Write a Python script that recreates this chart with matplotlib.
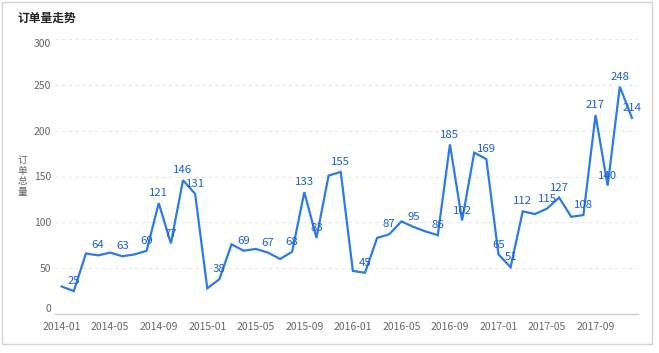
import matplotlib
matplotlib.use("Agg")
import matplotlib.pyplot as plt
from matplotlib.patches import Rectangle

plt.rcParams["font.family"] = ["Noto Sans CJK SC", "DejaVu Sans"]

# ── Data: monthly order totals 2014-01 .. 2017-12 ────────────────────────────
months = [f"{y}-{m:02d}" for y in range(2014, 2018) for m in range(1, 13)]
orders = [30, 25, 66, 64, 67, 63, 65, 69, 121, 77, 146, 131,
          28, 38, 76, 69, 71, 67, 60, 68, 133, 83, 151, 155,
          47, 45, 83, 87, 101, 95, 90, 86, 185, 102, 176, 169,
          65, 51, 112, 109, 115, 127, 106, 108, 217, 140, 248, 214]
# which points carry a value label (others hidden as overlapping)
show_label = [0, 1, 0, 1, 0, 1, 0, 1, 1, 1, 1, 1,
              0, 1, 0, 1, 0, 1, 0, 1, 1, 1, 0, 1,
              0, 1, 0, 1, 0, 1, 0, 1, 1, 1, 0, 1,
              1, 1, 1, 0, 1, 1, 0, 1, 1, 1, 1, 1]
y_ticks = [0, 50, 100, 150, 200, 250, 300]

LINE = "#2b7be6"
LABEL = "#1c5fd0"
GREY = "#666666"

W, H = 659, 353
fig = plt.figure(figsize=(W / 100, H / 100), dpi=100)
fig.patch.set_facecolor("white")

# outer panel border
fig.add_artist(Rectangle((2 / W, 1 - 344 / H), 650 / W, 342 / H,
                         transform=fig.transFigure, fill=False,
                         edgecolor="#d4d4d4", linewidth=1))

ax = fig.add_axes([55 / W, 39 / H, 583 / W, 275 / H])
x = list(range(len(months)))
ax.plot(x, orders, color=LINE, linewidth=1.6, solid_joinstyle="miter")

for xi, v, s in zip(x, orders, show_label):
    if s:
        ax.annotate(str(v), (xi, v), xytext=(0, 3.5), textcoords="offset points",
                    ha="center", va="bottom", fontsize=8.2, color=LABEL)

ax.set_xlim(-0.55, 47.5)
ax.set_ylim(0, 300)
ax.set_xticks(x[::4])
ax.set_xticklabels(months[::4], fontsize=7.5, color=GREY)
ax.set_yticks(y_ticks)
ax.set_yticklabels([str(t) for t in y_ticks], fontsize=7.5, color=GREY)
ylabs = ax.get_yticklabels()
ylabs[0].set_va("bottom")
ylabs[-1].set_va("top")
ax.tick_params(axis="both", length=0)
ax.tick_params(axis="x", pad=6)
ax.tick_params(axis="y", pad=3)

for t in y_ticks[1:]:
    ax.axhline(t, color="#e8e8e8", linewidth=0.8, linestyle=(0, (3, 3)), zorder=0)

for side in ["top", "right", "left"]:
    ax.spines[side].set_visible(False)
ax.spines["bottom"].set_color("#cccccc")
ax.spines["bottom"].set_linewidth(1)

fig.text(17 / W, 1 - 18 / H, "订单量走势", fontsize=8.5, fontweight="bold",
         color="#222222", ha="left", va="center")
fig.text(22 / W, 1 - 176 / H, "订\n单\n总\n量", fontsize=7, color=GREY,
         ha="center", va="center", linespacing=1.1)

fig.savefig("out.png", dpi=100, facecolor="white")
